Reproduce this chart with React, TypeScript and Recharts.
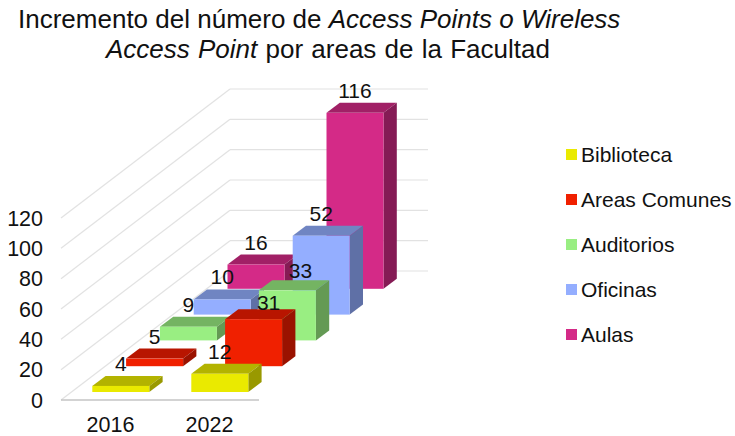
import { BarChart, Bar, XAxis, YAxis, CartesianGrid, Legend, LabelList } from "recharts"

const categories = ["2016", "2022"]
const seriesNames = ["Biblioteca", "Areas Comunes", "Auditorios", "Oficinas", "Aulas"]
const biblioteca = [4, 12]
const areasComunes = [5, 31]
const auditorios = [9, 33]
const oficinas = [10, 52]
const aulas = [16, 116]
const yTicks = [0, 20, 40, 60, 80, 100, 120]

const seriesValues = [biblioteca, areasComunes, auditorios, oficinas, aulas]
const frontColors = ["#EAEA00", "#F02000", "#99EE82", "#94AEFF", "#D42A87"]
const topColors = ["#B3B300", "#B81500", "#74B462", "#7085C2", "#A12066"]
const sideColors = ["#999900", "#9A1200", "#649A54", "#5F70A6", "#851B55"]

const data = categories.map((year, c) => {
  const row: Record<string, string | number> = { year }
  seriesNames.forEach((name, s) => {
    row[name] = seriesValues[s][c]
  })
  return row
})

const FONT = '"Liberation Sans", Arial, sans-serif'

// fake 3D: whole floor depth, split in one slot per series
const WALL_DX = 169
const WALL_DY = 129
const SLOT_DX = WALL_DX / 5
const SLOT_DY = WALL_DY / 5
const BOX_DX = 13.3
const BOX_DY = 10
const FIRST_DX = 10.3
const FIRST_DY = 8

const slotX = (s: number) => FIRST_DX + SLOT_DX * s
const slotY = (s: number) => FIRST_DY + SLOT_DY * s

// two labels were dragged off their bars in the original
const labelNudge: Record<string, [number, number]> = {
  "1-1": [15, 6],
  "2-1": [13, 3],
}

function Box3D(props: any) {
  const { series } = props
  const x = props.x + slotX(series)
  const y = props.y - slotY(series)
  const w = props.width
  const h = props.height
  return (
    <g>
      <polygon
        points={`${x},${y} ${x + w},${y} ${x + w + BOX_DX},${y - BOX_DY} ${x + BOX_DX},${y - BOX_DY}`}
        fill={topColors[series]}
      />
      <polygon
        points={`${x + w},${y} ${x + w + BOX_DX},${y - BOX_DY} ${x + w + BOX_DX},${y + h - BOX_DY} ${x + w},${y + h}`}
        fill={sideColors[series]}
      />
      <rect x={x} y={y} width={w} height={h} fill={frontColors[series]} />
    </g>
  )
}

function BoxLabel(props: any) {
  const { series, value, index } = props
  const box = props.viewBox ?? props
  const [nx, ny] = labelNudge[`${series}-${index}`] ?? [0, 0]
  return (
    <text
      x={box.x + box.width / 2 + slotX(series) + nx}
      y={box.y - slotY(series) - 22.5 + ny}
      textAnchor="middle"
      dominantBaseline="central"
      fontFamily={FONT}
      fontSize={21}
      fill="#111"
    >
      {value}
    </text>
  )
}

function WallLine(props: any) {
  const { x1, y1, x2 } = props
  return (
    <g stroke="#e2e2e2" strokeWidth={1.2}>
      <line x1={x1} y1={y1} x2={x1 + WALL_DX} y2={y1 - WALL_DY} />
      <line x1={x1 + WALL_DX} y1={y1 - WALL_DY} x2={x2 + WALL_DX} y2={y1 - WALL_DY} />
    </g>
  )
}

function LegendList() {
  return (
    <div>
      {seriesNames.map((name, s) => (
        <div key={name} style={{ height: 45, display: "flex", alignItems: "center", fontFamily: FONT, fontSize: 21, color: "#111", whiteSpace: "nowrap" }}>
          <span style={{ width: 11, height: 11, marginRight: 4, background: frontColors[s], display: "inline-block" }} />
          {name}
        </div>
      ))}
    </div>
  )
}

const titleLine = { position: "absolute", whiteSpace: "nowrap", fontFamily: FONT, fontSize: 26, color: "#111", lineHeight: "30px" } as const

export default function App() {
  return (
    <div style={{ position: "absolute", left: 0, top: 0, width: 735, height: 436, background: "#fff", overflow: "hidden" }}>
      <div style={{ ...titleLine, left: 18, top: 4 }}>
        Incremento del número de <i>Access Points o Wireless</i>
      </div>
      <div style={{ ...titleLine, left: 106, top: 34, wordSpacing: 1 }}>
        <i>Access Point</i> por areas de la Facultad
      </div>
      <BarChart
        width={735}
        height={436}
        data={data}
        margin={{ top: 218, right: 476, bottom: 0, left: 0 }}
        barSize={57}
        barGap={-57}
      >
        <CartesianGrid vertical={false} horizontal={(p: any) => <WallLine key={p.key ?? p.y1} {...p} />} />
        <XAxis
          dataKey="year"
          height={36}
          tickLine={false}
          axisLine={{ stroke: "#c4c4c4", strokeWidth: 1.5 }}
          tick={{ fontFamily: FONT, fontSize: 21.5, fill: "#111" }}
          tickMargin={11}
        />
        <YAxis
          width={61}
          domain={[0, 120]}
          ticks={yTicks}
          interval={0}
          axisLine={false}
          tickLine={false}
          tick={{ fontFamily: FONT, fontSize: 21.5, fill: "#111" }}
          tickMargin={12}
        />
        <Legend
          layout="vertical"
          align="center"
          verticalAlign="middle"
          content={<LegendList />}
          wrapperStyle={{ position: "absolute", left: 566, top: 132, width: 169 }}
        />
        {/* back rows first so the front ones paint over them */}
        {seriesNames
          .map((name, s) => (
            <Bar
              key={name}
              dataKey={name}
              isAnimationActive={false}
              shape={(p: any) => <Box3D {...p} series={s} />}
            >
              <LabelList dataKey={name} content={(p: any) => <BoxLabel {...p} series={s} />} />
            </Bar>
          ))
          .reverse()}
      </BarChart>
    </div>
  )
}
